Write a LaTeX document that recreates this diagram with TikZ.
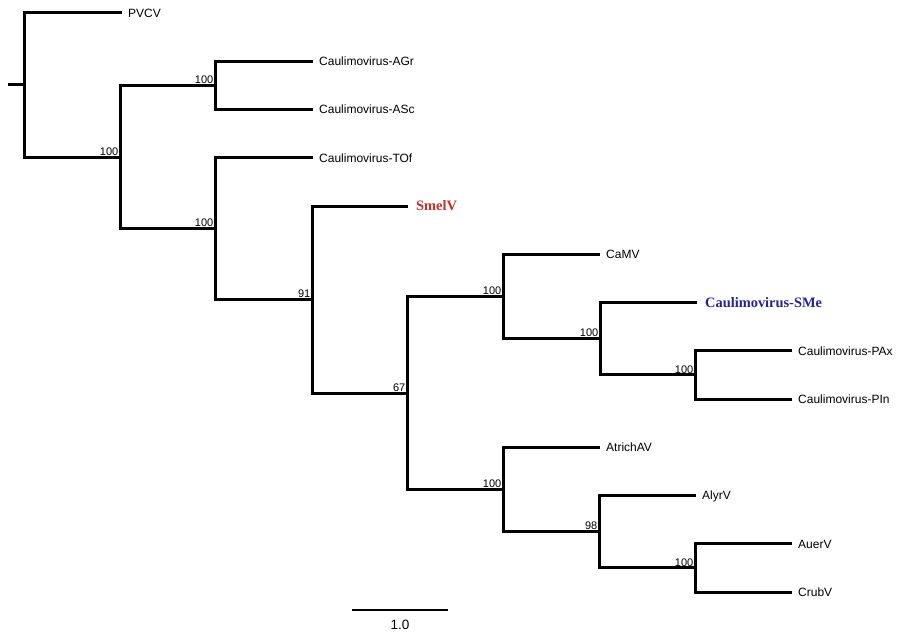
\documentclass[tikz,border=0pt]{standalone}
\usepackage{fontspec}
\setmainfont{Liberation Sans}
\newfontfamily\tnr{Liberation Serif}
\usepackage{xcolor}
\usepackage{tikz}
\usetikzlibrary{positioning}
\definecolor{smelred}{RGB}{196,48,40}
\definecolor{smeblue}{RGB}{36,36,150}

\begin{document}
\begin{tikzpicture}[x=1pt,y=-1pt]
\tikzstyle{branch}=[line width=3pt]
\tikzstyle{leaf}=[anchor=west,inner xsep=6pt,inner ysep=0pt,font=\fontsize{12}{14}\selectfont,text height=8.6pt,text depth=0pt]
\tikzstyle{hilite}=[leaf,inner xsep=8pt,font=\tnr\bfseries\fontsize{14.4}{16}\selectfont,text height=9.5pt]
\tikzstyle{boot}=[anchor=south east,inner sep=1.5pt,font=\fontsize{11}{13}\selectfont]
\useasboundingbox (0,0) rectangle (900,634);
% internal nodes
\coordinate (stub) at (8,85);
\coordinate (root) at (24,85);
\coordinate (c1) at (120,157);
\coordinate (cA) at (215,85.4);
\coordinate (cB) at (215,228.6);
\coordinate (cC) at (312,299.5);
\coordinate (cD) at (407,393);
\coordinate (cE) at (503,296.5);
\coordinate (cF) at (600,338.7);
\coordinate (cG) at (695,374.9);
\coordinate (cH) at (503,489.5);
\coordinate (cI) at (599,531.7);
\coordinate (cJ) at (695,567.9);
% leaves
\node[leaf] (pvcv) at (122,13) {PVCV};
\node[leaf] (agr) at (313,61.25) {Caulimovirus-AGr};
\node[leaf] (asc) at (313,109.5) {Caulimovirus-ASc};
\node[leaf] (tof) at (313,157.75) {Caulimovirus-TOf};
\node[hilite,text=smelred] (smelv) at (408,206) {SmelV};
\node[leaf] (camv) at (600,254.25) {CaMV};
\node[hilite,text=smeblue] (sme) at (697,302.5) {Caulimovirus-SMe};
\node[leaf] (pax) at (792,350.75) {Caulimovirus-PAx};
\node[leaf] (pin) at (792,399) {Caulimovirus-PIn};
\node[leaf] (atrich) at (600,447.25) {AtrichAV};
\node[leaf] (alyr) at (696,495.5) {AlyrV};
\node[leaf] (auer) at (792,543.75) {AuerV};
\node[leaf] (crub) at (792,592) {CrubV};
% branches
\draw[branch] (stub) -- (root);
\draw[branch] (root) |- (pvcv.west);
\draw[branch] (root) |- (c1);
\draw[branch] (c1) |- (cA);
\draw[branch] (c1) |- (cB);
\draw[branch] (cA) |- (agr.west);
\draw[branch] (cA) |- (asc.west);
\draw[branch] (cB) |- (tof.west);
\draw[branch] (cB) |- (cC);
\draw[branch] (cC) |- (smelv.west);
\draw[branch] (cC) |- (cD);
\draw[branch] (cD) |- (cE);
\draw[branch] (cD) |- (cH);
\draw[branch] (cE) |- (camv.west);
\draw[branch] (cE) |- (cF);
\draw[branch] (cF) |- (sme.west);
\draw[branch] (cF) |- (cG);
\draw[branch] (cG) |- (pax.west);
\draw[branch] (cG) |- (pin.west);
\draw[branch] (cH) |- (atrich.west);
\draw[branch] (cH) |- (cI);
\draw[branch] (cI) |- (alyr.west);
\draw[branch] (cI) |- (cJ);
\draw[branch] (cJ) |- (auer.west);
\draw[branch] (cJ) |- (crub.west);
% bootstrap values
\node[boot] (b1) at (c1) {100};
\node[boot] (bA) at (cA) {100};
\node[boot] (bB) at (cB) {100};
\node[boot] (bC) at (cC) {91};
\node[boot] (bD) at (cD) {67};
\node[boot] (bE) at (cE) {100};
\node[boot] (bF) at (cF) {100};
\node[boot] (bG) at (cG) {100};
\node[boot] (bH) at (cH) {100};
\node[boot] (bI) at (cI) {98};
\node[boot] (bJ) at (cJ) {100};
% scale bar
\coordinate (sbl) at (352,610);
\coordinate (sbr) at (448,610);
\draw[line width=1.3pt] (sbl) -- (sbr);
\node[font=\fontsize{13.5}{15}\selectfont,text height=9.7pt,text depth=0pt,inner sep=0pt] (sclab) at (400,625) {1.0};
\end{tikzpicture}
\end{document}
